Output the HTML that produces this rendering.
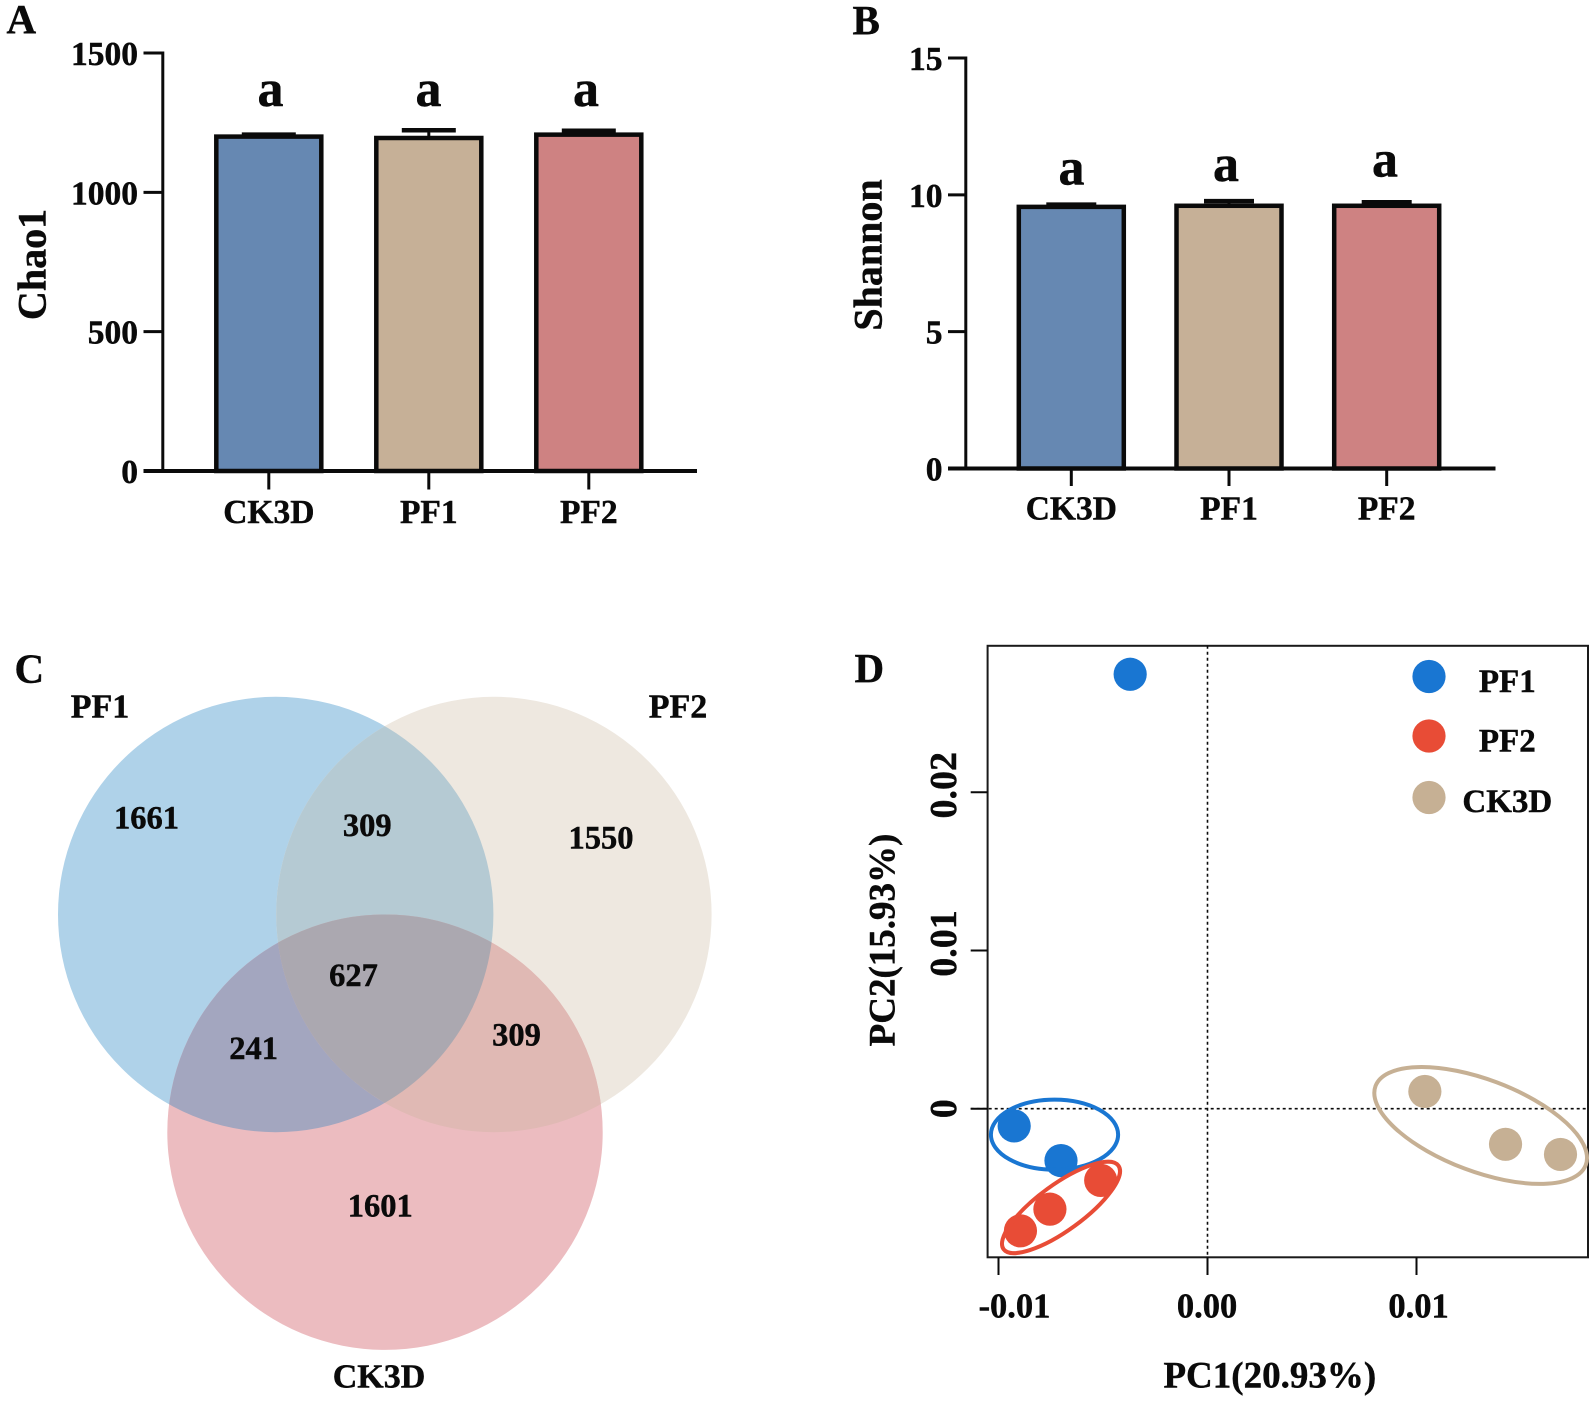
<!DOCTYPE html>
<html lang="en">
<head>
<meta charset="utf-8">
<title>Diversity analysis figure</title>
<style>
html,body{margin:0;padding:0;background:#fff;width:1595px;height:1402px;overflow:hidden}
svg{display:block}
text{font-family:"Liberation Serif",serif;font-weight:bold;fill:#0a0a0a;stroke:#0a0a0a;stroke-width:.45px}
</style>
</head>
<body>
<svg id="fig" xmlns="http://www.w3.org/2000/svg" width="1595" height="1402" viewBox="0 0 1595 1402">
  <defs>
    <clipPath id="clip-pf1"><circle cx="275.7" cy="914.5" r="217.7"/></clipPath>
    <clipPath id="clip-pf2"><circle cx="493.9" cy="914.5" r="217.7"/></clipPath>
    <clipPath id="clip-pf1-pf2" clip-path="url(#clip-pf1)"><circle cx="493.9" cy="914.5" r="217.7"/></clipPath>
  </defs>

  <g id="panel-a"></g>
  <g id="panel-b"></g>

  <g id="panel-c">
    <text x="14.5" y="682.5" font-size="41">C</text>
    <circle cx="275.7" cy="914.5" r="217.7" fill="#afd2e9"/>
    <circle cx="493.9" cy="914.5" r="217.7" fill="#eee8e0"/>
    <circle cx="385" cy="1132.2" r="217.7" fill="#ecbcc0"/>
    <circle cx="493.9" cy="914.5" r="217.7" fill="#b5cad3" clip-path="url(#clip-pf1)"/>
    <circle cx="385" cy="1132.2" r="217.7" fill="#a3a6bf" clip-path="url(#clip-pf1)"/>
    <circle cx="385" cy="1132.2" r="217.7" fill="#e0b9b4" clip-path="url(#clip-pf2)"/>
    <circle cx="385" cy="1132.2" r="217.7" fill="#aba8b0" clip-path="url(#clip-pf1-pf2)"/>
    <g font-size="34" text-anchor="middle">
      <text x="100" y="717.5">PF1</text>
      <text x="678" y="717.5">PF2</text>
      <text x="379" y="1387.5">CK3D</text>
    </g>
    <g font-size="32.5" text-anchor="middle">
      <text x="146.5" y="828.5">1661</text>
      <text x="367.3" y="836">309</text>
      <text x="601" y="848.5">1550</text>
      <text x="353.5" y="986">627</text>
      <text x="253.6" y="1059">241</text>
      <text x="516.5" y="1045.5">309</text>
      <text x="380.3" y="1216.6">1601</text>
    </g>
  </g>

  <g id="panel-d"></g>
</svg>

<script>
// ---- Bar chart data ----
const barCategories = ["CK3D", "PF1", "PF2"];
const chao1Values = [1200, 1195, 1207];
const chao1Errors = [7, 28, 14];
const chao1Letters = ["a", "a", "a"];
const chao1LetterLevels = [1309, 1309, 1309];
const chao1Ticks = [0, 500, 1000, 1500];
const shannonValues = [9.56, 9.6, 9.6];
const shannonErrors = [0.08, 0.17, 0.13];
const shannonLetters = ["a", "a", "a"];
const shannonLetterLevels = [10.38, 10.51, 10.67];
const shannonTicks = [0, 5, 10, 15];
const barColors = ["#6688b2", "#c6b097", "#ce8282"];

// ---- PCA data ----
const pcaGroups = ["PF1", "PF2", "CK3D"];
const pcaColors = ["#1976d2", "#e84c36", "#c6b094"];
const pf1X = [-0.0037, -0.00925, -0.00701];
const pf1Y = [0.02746, -0.00109, -0.00328];
const pf2X = [-0.00511, -0.00754, -0.00895];
const pf2Y = [-0.00453, -0.00635, -0.00772];
const ck3dX = [0.0104, 0.01426, 0.01689];
const ck3dY = [0.00109, -0.00225, -0.00289];
const pcaXTicks = [-0.01, 0, 0.01];
const pcaXTickLabels = ["-0.01", "0.00", "0.01"];
const pcaYTicks = [0, 0.01, 0.02];
const pcaYTickLabels = ["0", "0.01", "0.02"];
const ellipseCenterX = [-0.00732, -0.00701, 0.01307];
const ellipseCenterY = [-0.00164, -0.00624, -0.00106];

const NS = "http://www.w3.org/2000/svg";
function mk(tag, parent, attrs, content) {
  const el = document.createElementNS(NS, tag);
  for (const k in attrs) el.setAttribute(k, attrs[k]);
  if (content !== undefined) el.textContent = content;
  parent.appendChild(el);
  return el;
}
function line(parent, x1, y1, x2, y2, w, extra) {
  return mk("line", parent, Object.assign({x1, y1, x2, y2, stroke: "#0a0a0a", "stroke-width": w}, extra || {}));
}
function vtext(parent, x, y, s, size) {
  return mk("text", parent, {x, y, "font-size": size, "text-anchor": "middle", transform: `rotate(-90 ${x} ${y})`}, s);
}

function drawBars(opts) {
  const g = document.getElementById(opts.id);
  const yAxis = v => opts.y0 + (opts.yTop - opts.y0) * v / opts.yMax;
  const xAxis = i => opts.x0 + i * opts.step;

  const panelLabel = mk("text", g, {x: opts.labelX, y: opts.labelY, "font-size": 41}, opts.label);
  
  

  const title = vtext(g, opts.titleX, opts.titleY, opts.title, 40);
  
  

  barCategories.forEach((c, i) => {
    const cx = xAxis(i), top = yAxis(opts.values[i]), w = opts.barW;
    const stem = line(g, cx, top, cx, yAxis(opts.values[i] + opts.errors[i]), 3);
    
    
    const capY = yAxis(opts.values[i] + opts.errors[i]);
    const cap = line(g, cx - opts.capW / 2, capY, cx + opts.capW / 2, capY, 4.5);
    
    
    const bar = mk("rect", g, {x: cx - w / 2 + 2.25, y: top, width: w - 4.5, height: opts.y0 - top,
      fill: barColors[i], stroke: "#0a0a0a", "stroke-width": 4.5});
    
    
    const letter = mk("text", g, {x: opts.letterX[i], y: yAxis(opts.levels[i]), "font-size": 52, "text-anchor": "middle"}, opts.letters[i]);
    
    
    const tick = line(g, cx, opts.y0, cx, opts.xTickEnd, 3);
    
    
    const lab = mk("text", g, {x: cx, y: opts.xLabelY, "font-size": 33.5, "text-anchor": "middle"}, c);
    
    
  });

  const axisY = line(g, opts.axisX, opts.yTop - 1.5, opts.axisX, opts.y0, 3);
  
  
  const axisX = line(g, opts.tickLeft, opts.y0, opts.axisEnd, opts.y0, 4);
  
  

  opts.ticks.forEach(t => {
    const y = yAxis(t);
    const tk = line(g, opts.tickLeft, y, opts.axisX, y, 3);
    
    
    const tl = mk("text", g, {x: opts.tickLeft - 5.5, y: y + 12, "font-size": 33.5, "text-anchor": "end"}, String(t));
    
    
  });
}

drawBars({
  id: "panel-a", label: "A", labelX: 6.5, labelY: 33, title: "Chao1", titleX: 45.5, titleY: 264.5,
  values: chao1Values, errors: chao1Errors, letters: chao1Letters, levels: chao1LetterLevels, ticks: chao1Ticks,
  letterX: [270.5, 428.5, 586],
  y0: 471, yTop: 53, yMax: 1500, x0: 268.8, step: 160, barW: 109.5, capW: 54,
  axisX: 162.8, tickLeft: 143.5, axisEnd: 697, xTickEnd: 489.5, xLabelY: 523
});
drawBars({
  id: "panel-b", label: "B", labelX: 852.5, labelY: 33.8, title: "Shannon", titleX: 881.5, titleY: 255,
  values: shannonValues, errors: shannonErrors, letters: shannonLetters, levels: shannonLetterLevels, ticks: shannonTicks,
  letterX: [1071.5, 1226, 1385],
  y0: 468.5, yTop: 58, yMax: 15, x0: 1071.3, step: 157.7, barW: 109.5, capW: 50,
  axisX: 965.8, tickLeft: 948, axisEnd: 1495.5, xTickEnd: 486, xLabelY: 519.5
});

(function drawPca() {
  const g = document.getElementById("panel-d");
  const xAxis = v => 1207.5 + v * 20900;
  const yAxis = v => 1108.7 - v * 15820;
  const left = 987.6, right = 1588, top = 645.8, bottom = 1257.3;

  const label = mk("text", g, {x: 854.5, y: 682, "font-size": 41}, "D");
  
  

  const box = mk("rect", g, {x: left, y: top, width: right - left, height: bottom - top, fill: "none", stroke: "#1a1a1a", "stroke-width": 2});
  
  

  const vz = line(g, xAxis(0), top, xAxis(0), bottom, 1.6, {"stroke-dasharray": "3 3"});
  
  
  const hz = line(g, 970.7, yAxis(0), right, yAxis(0), 1.6, {"stroke-dasharray": "3 3"});
  
  

  const xLabelCenters = [1014.5, 1207, 1418.5];
  pcaXTicks.forEach((t, i) => {
    const tk = line(g, xAxis(t), bottom, xAxis(t), 1275, 2);
    
    
    const tl = mk("text", g, {x: xLabelCenters[i], y: 1317.5, "font-size": 34.5, "text-anchor": "middle"}, pcaXTickLabels[i]);
    
    
  });
  pcaYTicks.forEach((t, i) => {
    const tk = line(g, 970.7, yAxis(t), left, yAxis(t), 2);
    
    
    const shift = t === 0 ? 0 : -7;
    const tl = vtext(g, 956, yAxis(t) + shift, pcaYTickLabels[i], 38);
    
    
  });

  const xt = mk("text", g, {x: 1269.8, y: 1387.5, "font-size": 37, "text-anchor": "middle"}, "PC1(20.93%)");
  
  
  const yt = vtext(g, 894.5, 940, "PC2(15.93%)", 37);
  
  

  const xs = [pf1X, pf2X, ck3dX], ys = [pf1Y, pf2Y, ck3dY];
  xs.forEach((arr, gi) => {
    arr.forEach((v, i) => {
      const pt = mk("circle", g, {cx: xAxis(v), cy: yAxis(ys[gi][i]), r: 16.6, fill: pcaColors[gi]});
      
      
    });
  });

  const radiiA = [63.6, 71, 112.3], radiiB = [35, 23, 46], angles = [0, -36, 20.6];
  pcaGroups.forEach((name, i) => {
    const cx = xAxis(ellipseCenterX[i]), cy = yAxis(ellipseCenterY[i]);
    const el = mk("ellipse", g, {cx, cy, rx: radiiA[i], ry: radiiB[i], fill: "none", stroke: pcaColors[i], "stroke-width": 4,
      transform: `rotate(${angles[i]} ${cx} ${cy})`});
    
    
  });

  const legendRowY = [676.5, 736, 797.5], legendTextY = [691.9, 751.3, 812.2];
  pcaGroups.forEach((name, i) => {
    const dot = mk("circle", g, {cx: 1429, cy: legendRowY[i], r: 16.6, fill: pcaColors[i]});
    
    
    const t = mk("text", g, {x: 1507.3, y: legendTextY[i], "font-size": 33, "text-anchor": "middle"}, name);
    
    
  });
})();
</script>
</body>
</html>
